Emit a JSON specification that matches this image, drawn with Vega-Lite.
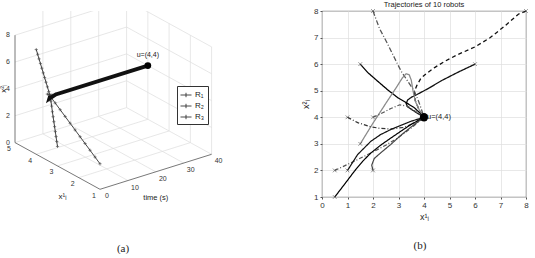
{
"$schema":"https://vega.github.io/schema/vega-lite/v6.json",
"padding":0,
"spacing":31,
"background":"white",
"config":{"font":"Liberation Sans","view":{"stroke":null}},
"resolve":{"scale":{"color":"independent","strokeDash":"independent","strokeWidth":"independent"},"legend":{"color":"independent","strokeDash":"independent","strokeWidth":"independent"}},
"datasets":{
"traj3d":[
{"robot":"R₁","t":0,"a":4,"z":7.8},{"robot":"R₁","t":0.5,"a":4,"z":7.42},{"robot":"R₁","t":1,"a":4,"z":7.04},{"robot":"R₁","t":1.5,"a":4,"z":6.66},{"robot":"R₁","t":2,"a":4,"z":6.28},{"robot":"R₁","t":2.5,"a":4,"z":5.9},{"robot":"R₁","t":3,"a":4,"z":5.52},{"robot":"R₁","t":3.5,"a":4,"z":5.14},{"robot":"R₁","t":4,"a":4,"z":4.76},{"robot":"R₁","t":4.5,"a":4,"z":4.38},{"robot":"R₁","t":5,"a":4,"z":4.0},{"robot":"R₁","t":5.5,"a":4.1,"z":3.7},{"robot":"R₁","t":7,"a":4,"z":4},{"robot":"R₁","t":40,"a":4,"z":4},
{"robot":"R₂","t":0,"a":3,"z":1.45},{"robot":"R₂","t":0.5,"a":3.1,"z":1.7},{"robot":"R₂","t":1,"a":3.2,"z":1.95},{"robot":"R₂","t":1.5,"a":3.3,"z":2.2},{"robot":"R₂","t":2,"a":3.4,"z":2.45},{"robot":"R₂","t":2.5,"a":3.5,"z":2.7},{"robot":"R₂","t":3,"a":3.6,"z":2.95},{"robot":"R₂","t":3.5,"a":3.7,"z":3.2},{"robot":"R₂","t":4,"a":3.8,"z":3.5},{"robot":"R₂","t":4.5,"a":3.9,"z":3.75},{"robot":"R₂","t":5,"a":4,"z":4},{"robot":"R₂","t":5.5,"a":3.85,"z":4.2},{"robot":"R₂","t":7,"a":4,"z":4},{"robot":"R₂","t":40,"a":4,"z":4},
{"robot":"R₃","t":0,"a":1,"z":1.9},{"robot":"R₃","t":0.5,"a":1.3,"z":2.11},{"robot":"R₃","t":1,"a":1.6,"z":2.32},{"robot":"R₃","t":1.5,"a":1.9,"z":2.53},{"robot":"R₃","t":2,"a":2.2,"z":2.74},{"robot":"R₃","t":2.5,"a":2.5,"z":2.95},{"robot":"R₃","t":3,"a":2.8,"z":3.16},{"robot":"R₃","t":3.5,"a":3.1,"z":3.37},{"robot":"R₃","t":4,"a":3.4,"z":3.58},{"robot":"R₃","t":4.5,"a":3.7,"z":3.79},{"robot":"R₃","t":5,"a":4,"z":4},{"robot":"R₃","t":5.5,"a":4.2,"z":3.95},{"robot":"R₃","t":7,"a":4,"z":4},{"robot":"R₃","t":40,"a":4,"z":4}
],
"traj2d":[
{"robot":"1","i":0,"x":8,"y":8},{"robot":"1","i":1,"x":7.7,"y":7.88},{"robot":"1","i":2,"x":7.2,"y":7.46},{"robot":"1","i":3,"x":6.6,"y":7.0},{"robot":"1","i":4,"x":6.0,"y":6.65},{"robot":"1","i":5,"x":5.3,"y":6.35},{"robot":"1","i":6,"x":4.8,"y":6.1},{"robot":"1","i":7,"x":4.4,"y":5.86},{"robot":"1","i":8,"x":4.1,"y":5.65},{"robot":"1","i":9,"x":3.88,"y":5.47},{"robot":"1","i":10,"x":3.72,"y":5.2},{"robot":"1","i":11,"x":3.62,"y":4.97},{"robot":"1","i":12,"x":3.65,"y":4.65},{"robot":"1","i":13,"x":3.8,"y":4.3},{"robot":"1","i":14,"x":4,"y":4},
{"robot":"2","i":0,"x":6,"y":6},{"robot":"2","i":1,"x":5.3,"y":5.68},{"robot":"2","i":2,"x":4.67,"y":5.37},{"robot":"2","i":3,"x":4.2,"y":5.1},{"robot":"2","i":4,"x":3.75,"y":4.87},{"robot":"2","i":5,"x":3.5,"y":4.75},{"robot":"2","i":6,"x":3.36,"y":4.65},{"robot":"2","i":7,"x":3.3,"y":4.52},{"robot":"2","i":8,"x":3.35,"y":4.4},{"robot":"2","i":9,"x":3.55,"y":4.27},{"robot":"2","i":10,"x":3.78,"y":4.13},{"robot":"2","i":11,"x":4,"y":4},
{"robot":"3","i":0,"x":2,"y":8},{"robot":"3","i":1,"x":2.25,"y":7.35},{"robot":"3","i":2,"x":2.58,"y":6.75},{"robot":"3","i":3,"x":2.85,"y":6.22},{"robot":"3","i":4,"x":3.1,"y":5.74},{"robot":"3","i":5,"x":3.38,"y":5.33},{"robot":"3","i":6,"x":3.62,"y":4.99},{"robot":"3","i":7,"x":3.78,"y":4.62},{"robot":"3","i":8,"x":3.9,"y":4.3},{"robot":"3","i":9,"x":4,"y":4},
{"robot":"4","i":0,"x":1.5,"y":6},{"robot":"4","i":1,"x":1.8,"y":5.68},{"robot":"4","i":2,"x":2.18,"y":5.36},{"robot":"4","i":3,"x":2.58,"y":5.03},{"robot":"4","i":4,"x":2.97,"y":4.74},{"robot":"4","i":5,"x":3.3,"y":4.55},{"robot":"4","i":6,"x":3.62,"y":4.36},{"robot":"4","i":7,"x":3.82,"y":4.18},{"robot":"4","i":8,"x":4,"y":4},
{"robot":"5","i":0,"x":1.5,"y":3},{"robot":"5","i":1,"x":2.0,"y":3.78},{"robot":"5","i":2,"x":2.5,"y":4.52},{"robot":"5","i":3,"x":2.9,"y":5.1},{"robot":"5","i":4,"x":3.15,"y":5.48},{"robot":"5","i":5,"x":3.3,"y":5.64},{"robot":"5","i":6,"x":3.42,"y":5.6},{"robot":"5","i":7,"x":3.5,"y":5.4},{"robot":"5","i":8,"x":3.57,"y":5.0},{"robot":"5","i":9,"x":3.66,"y":4.6},{"robot":"5","i":10,"x":3.82,"y":4.27},{"robot":"5","i":11,"x":4,"y":4},
{"robot":"6","i":0,"x":2,"y":4},{"robot":"6","i":1,"x":2.3,"y":4.13},{"robot":"6","i":2,"x":2.7,"y":4.33},{"robot":"6","i":3,"x":3.05,"y":4.47},{"robot":"6","i":4,"x":3.35,"y":4.42},{"robot":"6","i":5,"x":3.7,"y":4.2},{"robot":"6","i":6,"x":4,"y":4},
{"robot":"7","i":0,"x":1,"y":4},{"robot":"7","i":1,"x":1.4,"y":3.8},{"robot":"7","i":2,"x":1.92,"y":3.64},{"robot":"7","i":3,"x":2.3,"y":3.58},{"robot":"7","i":4,"x":2.7,"y":3.56},{"robot":"7","i":5,"x":3.23,"y":3.62},{"robot":"7","i":6,"x":3.6,"y":3.78},{"robot":"7","i":7,"x":4,"y":4},
{"robot":"8","i":0,"x":0.5,"y":2},{"robot":"8","i":1,"x":0.9,"y":2.18},{"robot":"8","i":2,"x":1.4,"y":2.41},{"robot":"8","i":3,"x":2.05,"y":2.72},{"robot":"8","i":4,"x":2.5,"y":2.95},{"robot":"8","i":5,"x":2.97,"y":3.22},{"robot":"8","i":6,"x":3.5,"y":3.6},{"robot":"8","i":7,"x":4,"y":4},
{"robot":"9","i":0,"x":1,"y":2},{"robot":"9","i":1,"x":1.2,"y":2.3},{"robot":"9","i":2,"x":1.4,"y":2.6},{"robot":"9","i":3,"x":1.92,"y":3.1},{"robot":"9","i":4,"x":2.3,"y":3.35},{"robot":"9","i":5,"x":2.7,"y":3.54},{"robot":"9","i":6,"x":3.1,"y":3.7},{"robot":"9","i":7,"x":3.49,"y":3.85},{"robot":"9","i":8,"x":4,"y":4},
{"robot":"10","i":0,"x":0.5,"y":1},{"robot":"10","i":1,"x":0.9,"y":1.5},{"robot":"10","i":2,"x":1.27,"y":1.97},{"robot":"10","i":3,"x":1.6,"y":2.35},{"robot":"10","i":4,"x":1.92,"y":2.66},{"robot":"10","i":5,"x":2.3,"y":2.95},{"robot":"10","i":6,"x":2.7,"y":3.22},{"robot":"10","i":7,"x":3.1,"y":3.48},{"robot":"10","i":8,"x":3.49,"y":3.73},{"robot":"10","i":9,"x":4,"y":4},
{"robot":"11","i":0,"x":2,"y":2},{"robot":"11","i":1,"x":1.95,"y":2.2},{"robot":"11","i":2,"x":2.05,"y":2.45},{"robot":"11","i":3,"x":2.3,"y":2.66},{"robot":"11","i":4,"x":2.7,"y":2.98},{"robot":"11","i":5,"x":3.1,"y":3.33},{"robot":"11","i":6,"x":3.5,"y":3.64},{"robot":"11","i":7,"x":4,"y":4}
]
},
"hconcat":[
{
"width":270,"height":220,
"title":{"text":"(a)","orient":"bottom","offset":12,"dx":-12,"font":"Liberation Serif","fontSize":11,"fontWeight":"normal","color":"#222"},
"layer":[
{"data":{"values":[
{"t1":10,"a1":5,"z1":0,"t2":10,"a2":5,"z2":10},{"t1":20,"a1":5,"z1":0,"t2":20,"a2":5,"z2":10},{"t1":30,"a1":5,"z1":0,"t2":30,"a2":5,"z2":10},{"t1":40,"a1":5,"z1":0,"t2":40,"a2":5,"z2":10},
{"t1":0,"a1":5,"z1":2,"t2":40,"a2":5,"z2":2},{"t1":0,"a1":5,"z1":4,"t2":40,"a2":5,"z2":4},{"t1":0,"a1":5,"z1":6,"t2":40,"a2":5,"z2":6},{"t1":0,"a1":5,"z1":8,"t2":40,"a2":5,"z2":8},
{"t1":40,"a1":1,"z1":0,"t2":40,"a2":1,"z2":8},{"t1":40,"a1":2,"z1":0,"t2":40,"a2":2,"z2":8},{"t1":40,"a1":3,"z1":0,"t2":40,"a2":3,"z2":8},{"t1":40,"a1":4,"z1":0,"t2":40,"a2":4,"z2":8},
{"t1":40,"a1":1,"z1":2,"t2":40,"a2":5,"z2":2},{"t1":40,"a1":1,"z1":4,"t2":40,"a2":5,"z2":4},{"t1":40,"a1":1,"z1":6,"t2":40,"a2":5,"z2":6},{"t1":40,"a1":1,"z1":8,"t2":40,"a2":5,"z2":8},
{"t1":10,"a1":1,"z1":0,"t2":10,"a2":5,"z2":0},{"t1":20,"a1":1,"z1":0,"t2":20,"a2":5,"z2":0},{"t1":30,"a1":1,"z1":0,"t2":30,"a2":5,"z2":0},{"t1":40,"a1":1,"z1":0,"t2":40,"a2":5,"z2":0},
{"t1":0,"a1":2,"z1":0,"t2":40,"a2":2,"z2":0},{"t1":0,"a1":3,"z1":0,"t2":40,"a2":3,"z2":0},{"t1":0,"a1":4,"z1":0,"t2":40,"a2":4,"z2":0},{"t1":0,"a1":5,"z1":0,"t2":40,"a2":5,"z2":0}
]},
"transform":[{"calculate":"111.6*datum.t1/40-85*(datum.a1-1)/4","as":"px"},{"calculate":"35*datum.t1/40+46.7*(datum.a1-1)/4+107.4*datum.z1/8","as":"py"},{"calculate":"111.6*datum.t2/40-85*(datum.a2-1)/4","as":"px2"},{"calculate":"35*datum.t2/40+46.7*(datum.a2-1)/4+107.4*datum.z2/8","as":"py2"}],
"mark":{"type":"rule","stroke":"#dcdcdc","strokeWidth":0.7,"clip":true},
"encoding":{"x":{"field":"px","type":"quantitative","scale":{"domain":[-100,170],"nice":false,"zero":false},"axis":null},"y":{"field":"py","type":"quantitative","scale":{"domain":[-41.7,178.3],"nice":false,"zero":false},"axis":null},"x2":{"field":"px2"},"y2":{"field":"py2"}}},
{"data":{"values":[
{"t1":0,"a1":5,"z1":0,"t2":0,"a2":5,"z2":8},{"t1":0,"a1":5,"z1":0,"t2":0,"a2":1,"z2":0},{"t1":0,"a1":1,"z1":0,"t2":40,"a2":1,"z2":0}
]},
"transform":[{"calculate":"111.6*datum.t1/40-85*(datum.a1-1)/4","as":"px"},{"calculate":"35*datum.t1/40+46.7*(datum.a1-1)/4+107.4*datum.z1/8","as":"py"},{"calculate":"111.6*datum.t2/40-85*(datum.a2-1)/4","as":"px2"},{"calculate":"35*datum.t2/40+46.7*(datum.a2-1)/4+107.4*datum.z2/8","as":"py2"}],
"mark":{"type":"rule","stroke":"#555","strokeWidth":0.8},
"encoding":{"x":{"field":"px","type":"quantitative","scale":{"domain":[-100,170],"nice":false,"zero":false},"axis":null},"y":{"field":"py","type":"quantitative","scale":{"domain":[-41.7,178.3],"nice":false,"zero":false},"axis":null},"x2":{"field":"px2"},"y2":{"field":"py2"}}},
{"data":{"values":[{"t":0,"a":5,"z":0,"label":"0"},{"t":0,"a":5,"z":2,"label":"2"},{"t":0,"a":5,"z":4,"label":"4"},{"t":0,"a":5,"z":6,"label":"6"},{"t":0,"a":5,"z":8,"label":"8"}]},
"transform":[{"calculate":"111.6*datum.t/40-85*(datum.a-1)/4","as":"px"},{"calculate":"35*datum.t/40+46.7*(datum.a-1)/4+107.4*datum.z/8","as":"py"}],
"mark":{"type":"text","align":"right","baseline":"middle","dx":-5,"fontSize":7,"color":"#333"},
"encoding":{"x":{"field":"px","type":"quantitative","scale":{"domain":[-100,170],"nice":false,"zero":false},"axis":null},"y":{"field":"py","type":"quantitative","scale":{"domain":[-41.7,178.3],"nice":false,"zero":false},"axis":null},"text":{"field":"label"}}},
{"data":{"values":[{"t":0,"a":1,"z":0,"label":"1"},{"t":0,"a":2,"z":0,"label":"2"},{"t":0,"a":3,"z":0,"label":"3"},{"t":0,"a":4,"z":0,"label":"4"},{"t":0,"a":5,"z":0,"label":"5"}]},
"transform":[{"calculate":"111.6*datum.t/40-85*(datum.a-1)/4","as":"px"},{"calculate":"35*datum.t/40+46.7*(datum.a-1)/4+107.4*datum.z/8","as":"py"}],
"mark":{"type":"text","align":"center","baseline":"middle","dx":-6,"dy":6.5,"fontSize":7,"color":"#333"},
"encoding":{"x":{"field":"px","type":"quantitative","scale":{"domain":[-100,170],"nice":false,"zero":false},"axis":null},"y":{"field":"py","type":"quantitative","scale":{"domain":[-41.7,178.3],"nice":false,"zero":false},"axis":null},"text":{"field":"label"}}},
{"data":{"values":[{"t":0,"a":1,"z":0,"label":"0"},{"t":10,"a":1,"z":0,"label":"10"},{"t":20,"a":1,"z":0,"label":"20"},{"t":30,"a":1,"z":0,"label":"30"},{"t":40,"a":1,"z":0,"label":"40"}]},
"transform":[{"calculate":"111.6*datum.t/40-85*(datum.a-1)/4","as":"px"},{"calculate":"35*datum.t/40+46.7*(datum.a-1)/4+107.4*datum.z/8","as":"py"}],
"mark":{"type":"text","align":"center","baseline":"middle","dx":7,"dy":7,"fontSize":7,"color":"#333"},
"encoding":{"x":{"field":"px","type":"quantitative","scale":{"domain":[-100,170],"nice":false,"zero":false},"axis":null},"y":{"field":"py","type":"quantitative","scale":{"domain":[-41.7,178.3],"nice":false,"zero":false},"axis":null},"text":{"field":"label"}}},
{"data":{"values":[{"t":0,"a":3,"z":0,"label":"x¹ᵢ"}]},
"transform":[{"calculate":"111.6*datum.t/40-85*(datum.a-1)/4","as":"px"},{"calculate":"35*datum.t/40+46.7*(datum.a-1)/4+107.4*datum.z/8","as":"py"}],
"mark":{"type":"text","align":"center","baseline":"middle","dx":5,"dy":31,"fontSize":8,"color":"#222"},
"encoding":{"x":{"field":"px","type":"quantitative","scale":{"domain":[-100,170],"nice":false,"zero":false},"axis":null},"y":{"field":"py","type":"quantitative","scale":{"domain":[-41.7,178.3],"nice":false,"zero":false},"axis":null},"text":{"field":"label"}}},
{"data":{"values":[{"t":20,"a":1,"z":0,"label":"time (s)"}]},
"transform":[{"calculate":"111.6*datum.t/40-85*(datum.a-1)/4","as":"px"},{"calculate":"35*datum.t/40+46.7*(datum.a-1)/4+107.4*datum.z/8","as":"py"}],
"mark":{"type":"text","align":"center","baseline":"middle","dx":0,"dy":26,"fontSize":7.5,"color":"#222"},
"encoding":{"x":{"field":"px","type":"quantitative","scale":{"domain":[-100,170],"nice":false,"zero":false},"axis":null},"y":{"field":"py","type":"quantitative","scale":{"domain":[-41.7,178.3],"nice":false,"zero":false},"axis":null},"text":{"field":"label"}}},
{"data":{"values":[{"t":0,"a":5,"z":4,"label":"x²ᵢ"}]},
"transform":[{"calculate":"111.6*datum.t/40-85*(datum.a-1)/4","as":"px"},{"calculate":"35*datum.t/40+46.7*(datum.a-1)/4+107.4*datum.z/8","as":"py"}],
"mark":{"type":"text","align":"center","baseline":"middle","angle":270,"dy":-11,"fontSize":8,"color":"#222"},
"encoding":{"x":{"field":"px","type":"quantitative","scale":{"domain":[-100,170],"nice":false,"zero":false},"axis":null},"y":{"field":"py","type":"quantitative","scale":{"domain":[-41.7,178.3],"nice":false,"zero":false},"axis":null},"text":{"field":"label"}}},
{"data":{"name":"traj3d"},
"transform":[{"calculate":"111.6*datum.t/40-85*(datum.a-1)/4","as":"px"},{"calculate":"35*datum.t/40+46.7*(datum.a-1)/4+107.4*datum.z/8","as":"py"}],
"mark":{"type":"line","strokeWidth":0.9},
"encoding":{"x":{"field":"px","type":"quantitative","scale":{"domain":[-100,170],"nice":false,"zero":false},"axis":null},"y":{"field":"py","type":"quantitative","scale":{"domain":[-41.7,178.3],"nice":false,"zero":false},"axis":null},"order":{"field":"t"},
"color":{"field":"robot","type":"nominal","scale":{"domain":["R₁","R₂","R₃"],"range":["#333","#333","#333"]},"legend":{"orient":"none","legendX":177,"legendY":75,"title":null,"symbolType":"M-1,0H1M0,-0.4V0.4","symbolSize":121,"symbolStrokeWidth":0.9,"labelFontSize":8,"labelColor":"#222","labelOffset":3,"padding":3,"rowPadding":1,"strokeColor":"#333","fillColor":"white"}}}},
{"data":{"name":"traj3d"},
"transform":[{"filter":"datum.t <= 7"},{"calculate":"111.6*datum.t/40-85*(datum.a-1)/4","as":"px"},{"calculate":"35*datum.t/40+46.7*(datum.a-1)/4+107.4*datum.z/8","as":"py"}],
"mark":{"type":"point","shape":"M-1,0H1M0,-1V1","size":10,"filled":false,"stroke":"#333","strokeWidth":0.8},
"encoding":{"x":{"field":"px","type":"quantitative","scale":{"domain":[-100,170],"nice":false,"zero":false},"axis":null},"y":{"field":"py","type":"quantitative","scale":{"domain":[-41.7,178.3],"nice":false,"zero":false},"axis":null}}},
{"data":{"name":"traj3d"},
"transform":[{"filter":"datum.robot == 'R₁' && datum.t >= 5"},{"calculate":"111.6*datum.t/40-85*(datum.a-1)/4","as":"px"},{"calculate":"35*datum.t/40+46.7*(datum.a-1)/4+107.4*datum.z/8","as":"py"}],
"mark":{"type":"line","strokeWidth":4,"color":"#111"},
"encoding":{"x":{"field":"px","type":"quantitative","scale":{"domain":[-100,170],"nice":false,"zero":false},"axis":null},"y":{"field":"py","type":"quantitative","scale":{"domain":[-41.7,178.3],"nice":false,"zero":false},"axis":null},"order":{"field":"t"}}},
{"data":{"values":[{"t":40,"a":4,"z":4,"label":"u=(4,4)"}]},
"transform":[{"calculate":"111.6*datum.t/40-85*(datum.a-1)/4","as":"px"},{"calculate":"35*datum.t/40+46.7*(datum.a-1)/4+107.4*datum.z/8","as":"py"}],
"layer":[
{"mark":{"type":"point","filled":true,"size":45,"color":"#000","opacity":1}},
{"mark":{"type":"text","dy":-11,"fontSize":7,"color":"#222"},"encoding":{"text":{"field":"label"}}}
],
"encoding":{"x":{"field":"px","type":"quantitative","scale":{"domain":[-100,170],"nice":false,"zero":false},"axis":null},"y":{"field":"py","type":"quantitative","scale":{"domain":[-41.7,178.3],"nice":false,"zero":false},"axis":null}}}
]
},
{
"width":204,"height":186,
"view":{"stroke":"#444","strokeWidth":0.8},
"title":{"text":"(b)","orient":"bottom","offset":19,"dx":-4,"font":"Liberation Serif","fontSize":11,"fontWeight":"normal","color":"#222"},
"encoding":{
"x":{"field":"x","type":"quantitative","scale":{"domain":[0,8],"nice":false,"zero":false},"axis":{"values":[0,1,2,3,4,5,6,7,8],"title":"x¹ᵢ","grid":true,"gridColor":"#dedede","gridWidth":0.7,"domain":false,"ticks":true,"tickSize":2,"tickColor":"#555","labelFontSize":8,"labelColor":"#333","labelPadding":2,"labelFlush":false,"titleFontSize":9,"titleFontWeight":"normal","titleColor":"#222","titlePadding":3}},
"y":{"field":"y","type":"quantitative","scale":{"domain":[1,8],"nice":false,"zero":false},"axis":{"values":[1,2,3,4,5,6,7,8],"title":"x²ᵢ","grid":true,"gridColor":"#dedede","gridWidth":0.7,"domain":false,"ticks":true,"tickSize":2,"tickColor":"#555","labelFontSize":8,"labelColor":"#333","labelPadding":2,"labelFlush":false,"titleFontSize":9,"titleFontWeight":"normal","titleColor":"#222","titlePadding":3}}
},
"layer":[
{"data":{"name":"traj2d"},
"mark":{"type":"line"},
"encoding":{"order":{"field":"i"},
"color":{"field":"robot","type":"nominal","scale":{"domain":["1","2","3","4","5","6","7","8","9","10","11"],"range":["#111","#111","#555","#000","#8a8a8a","#555","#333","#555","#111","#000","#444"]},"legend":null},
"strokeDash":{"field":"robot","type":"nominal","scale":{"domain":["1","2","3","4","5","6","7","8","9","10","11"],"range":[[4,3],[1,0],[5,2,1,2],[1,0],[1,0],[4,2,1,2],[4,2,1,2],[4,2,1,2],[1,0],[1,0],[1,0]]},"legend":null},
"strokeWidth":{"field":"robot","type":"ordinal","scale":{"domain":["1","2","3","4","5","6","7","8","9","10","11"],"range":[1.3,1.2,1,1.9,0.9,1,1.2,1,1.6,2,1]},"legend":null}}},
{"data":{"name":"traj2d"},
"transform":[{"filter":"datum.i == 0"}],
"mark":{"type":"point","shape":"M-1,-1L1,1M-1,1L1,-1","size":14,"filled":false,"stroke":"#444","strokeWidth":0.8}},
{"data":{"values":[{"x":4,"y":4,"label":"u=(4,4)"}]},
"mark":{"type":"point","filled":true,"size":70,"color":"#000","opacity":1}},
{"data":{"values":[{"x":4,"y":4,"label":"u=(4,4)"}]},
"mark":{"type":"text","align":"left","baseline":"middle","dx":3,"fontSize":7.5,"color":"#222"},
"encoding":{"text":{"field":"label"}}},
{"data":{"values":[{"x":4,"y":8,"label":"Trajectories of 10 robots"}]},
"mark":{"type":"text","align":"center","baseline":"bottom","dy":-2,"fontSize":7.5,"color":"#222"},
"encoding":{"text":{"field":"label"}}}
]
}
]
}
